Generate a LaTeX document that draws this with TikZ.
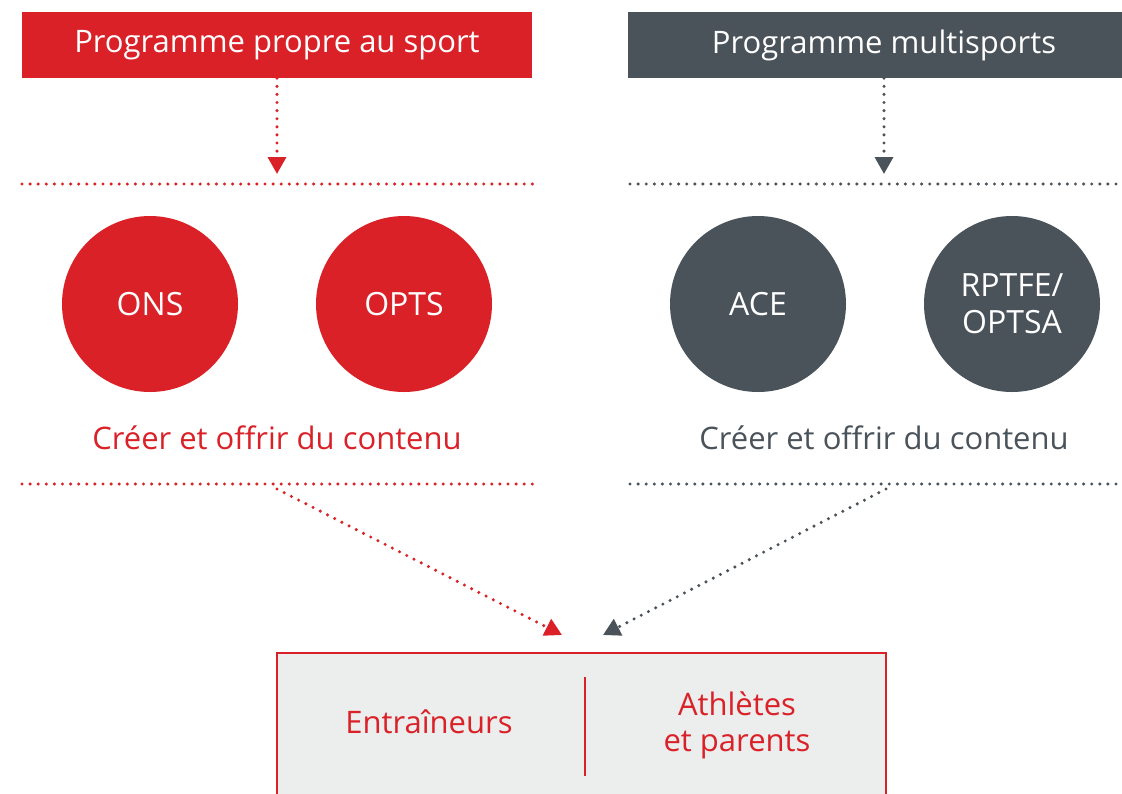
\documentclass[tikz,border=0pt]{standalone}
\usepackage{fontspec}
\setmainfont{Open Sans}
\usetikzlibrary{arrows.meta}
\definecolor{sportred}{HTML}{DA2128}
\definecolor{multigrey}{HTML}{4A525A}
\definecolor{boxgrey}{HTML}{ECEDED}
\begin{document}
\begin{tikzpicture}[x=1pt,y=-1pt]
				\tikzstyle{Banner} = [rectangle, minimum height=66, inner sep=0pt, text=white, font=\fontsize{31}{36}\selectfont]
				\tikzstyle{Org} = [circle, minimum size=176, inner sep=0pt, text=white, align=center, font=\fontsize{32}{37}\selectfont]
				\tikzstyle{Label} = [inner sep=0pt, font=\fontsize{31}{36}\selectfont]
				\tikzstyle{Dots} = [line width=3.4, line cap=round, dash pattern=on 0pt off 8.1pt]
				\tikzstyle{Tip} = [-{Triangle[width=18,length=17]}]
				\useasboundingbox (0,0) rectangle (1122,793);
				\node (PS) at (277,45) [Banner, fill=sportred, minimum width=510] {Programme propre au sport};
				\node (PM) at (884,45) [Banner, fill=multigrey, minimum width=512] {Programme multisports};
				\coordinate (PStop) at (277,174);
				\coordinate (PMtop) at (884,174);
				\draw[Dots, sportred] (22,184) -- (534,184);
				\draw[Dots, multigrey] (630,184) -- (1122,184);
				\node (ONS) at (150,304) [Org, fill=sportred] {ONS};
				\node (OPTS) at (404,304) [Org, fill=sportred] {OPTS};
				\node (ACE) at (758,304) [Org, fill=multigrey] {ACE};
				\node (RPTFE) at (1012,304) [Org, fill=multigrey] {RPTFE/\\OPTSA};
				\node (CR) at (277,438) [Label, text=sportred] {Créer et offrir du contenu};
				\node (CM) at (884,438) [Label, text=multigrey] {Créer et offrir du contenu};
				\draw[Dots, sportred] (22,484) -- (534,484);
				\draw[Dots, multigrey] (630,484) -- (1122,484);
				\coordinate (PSbot) at (277,489);
				\coordinate (PMbot) at (886,489);
				\draw[fill=boxgrey, draw=sportred, line width=2] (277,653) rectangle (886,800);
				\coordinate (Lin) at (562,635);
				\coordinate (Rin) at (603,635);
				\draw[sportred, line width=2] (585,677) -- (585,776);
				\node (E) at (429,722) [Label, text=sportred] {Entraîneurs};
				\node (AP) at (737,725) [Label, text=sportred, align=center] {Athlètes\\et parents};
				\draw[Dots, Tip, sportred] (PS.south) to (PStop);
				\draw[Dots, Tip, multigrey] (PM.south) to (PMtop);
				\draw[Dots, Tip, sportred] (PSbot) to (Lin);
				\draw[Dots, Tip, multigrey] (PMbot) to (Rin);
			\end{tikzpicture}
\end{document}
